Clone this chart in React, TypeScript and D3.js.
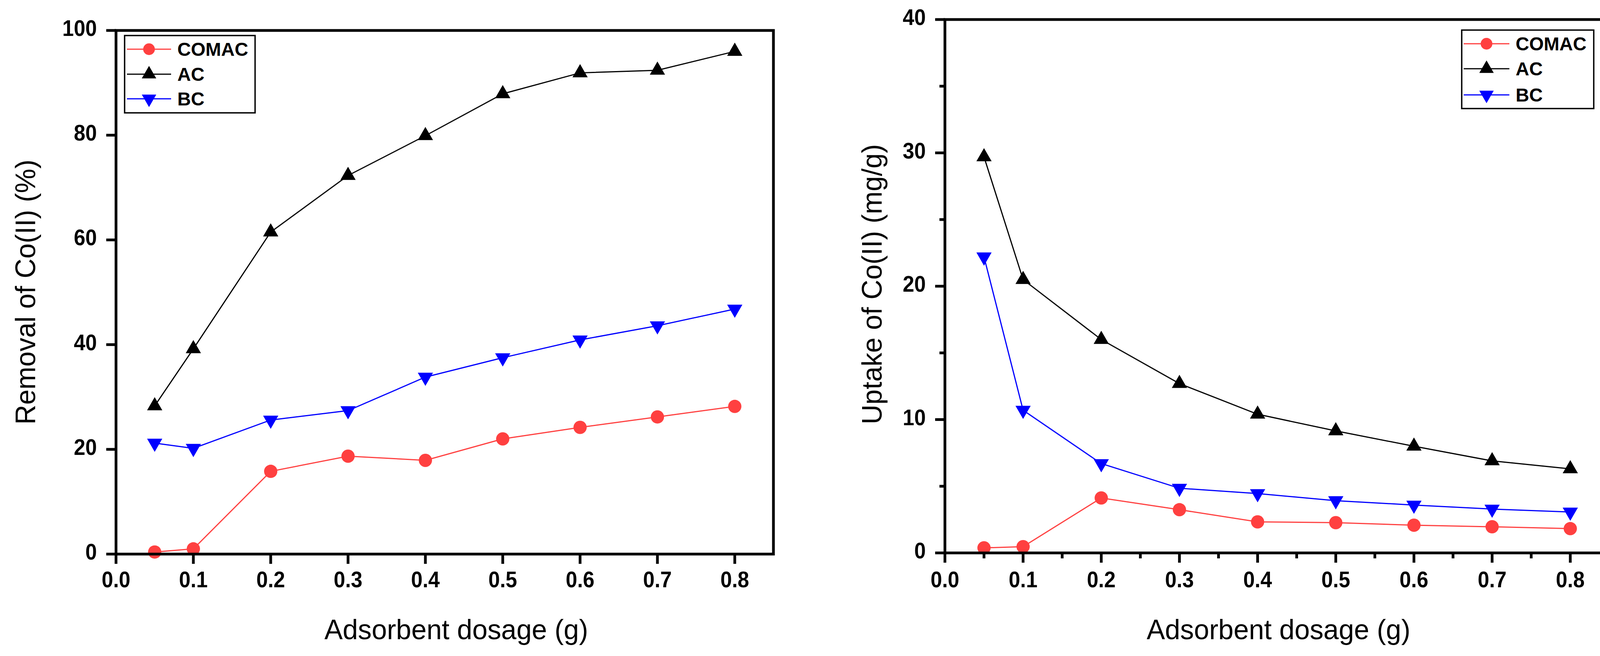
import React from 'react';
import * as d3 from 'd3';

// ---------- data ----------
const dosage = [0.05, 0.1, 0.2, 0.3, 0.4, 0.5, 0.6, 0.7, 0.8];
const seriesNames = ['COMAC', 'AC', 'BC'];
const seriesColors = ['#FF4040', '#000000', '#0000FF'];
const seriesShapes = ['circle', 'up', 'down'];

const removalCOMAC = [0.4, 1.0, 15.8, 18.7, 17.9, 22.0, 24.2, 26.2, 28.2];
const removalAC = [28.3, 39.2, 61.5, 72.3, 79.9, 87.9, 91.9, 92.4, 96.0];
const removalBC = [21.2, 20.2, 25.6, 27.4, 33.8, 37.5, 40.9, 43.6, 46.8];

const uptakeCOMAC = [0.38, 0.47, 4.12, 3.24, 2.33, 2.27, 2.08, 1.96, 1.82];
const uptakeAC = [29.7, 20.5, 16.0, 12.7, 10.4, 9.15, 8.0, 6.9, 6.3];
const uptakeBC = [22.2, 10.7, 6.7, 4.85, 4.45, 3.92, 3.59, 3.29, 3.07];

const xTicks = [0.0, 0.1, 0.2, 0.3, 0.4, 0.5, 0.6, 0.7, 0.8];
const xMinorTicks = [0.05, 0.15, 0.25, 0.35, 0.45, 0.55, 0.65, 0.75, 0.85];
const removalTicks = [0, 20, 40, 60, 80, 100];
const uptakeTicks = [0, 10, 20, 30, 40];
const uptakeMinorTicks = [5, 15, 25, 35];

const xTitle = 'Adsorbent dosage (g)';
const removalTitle = 'Removal of Co(II) (%)';
const uptakeTitle = 'Uptake of Co(II) (mg/g)';

// ---------- helpers ----------
const FONT = "'Liberation Sans', Arial, Helvetica, sans-serif";

function markerPath(shape: string, big: boolean) {
  const r = big ? 17 : 15;
  const triSide = big ? 39 : 37;
  if (shape === 'circle') return d3.symbol().type(d3.symbolCircle).size(Math.PI * r * r)()!;
  const area = (triSide * triSide * Math.sqrt(3)) / 4;
  return d3.symbol().type(d3.symbolTriangle).size(area)()!;
}

type PanelProps = {
  xRange: [number, number];
  yRange: [number, number]; // [bottom, top]
  yDomain: [number, number];
  yTicks: number[];
  yMinor: number[];
  xMinor: number[];
  series: number[][];
  yTitle: string;
  yTitleX: number;
  yTitleY: number;
  xTitleX: number;
  legend: { x: number; y: number; w: number; h: number; rows: number[]; lineX0: number; lineX1: number; textX: number };
};

function Panel(p: PanelProps) {
  const x = d3.scaleLinear().domain([0, 0.85]).range(p.xRange);
  const y = d3.scaleLinear().domain(p.yDomain).range(p.yRange);
  const [x0, x1] = p.xRange;
  const [yb, yt] = p.yRange;
  const line = d3
    .line<number>()
    .x((_, i) => x(dosage[i]))
    .y((d) => y(d));
  const AX = 7;
  const major = 25;
  const minor = 14;
  const sx = 0.93;
  return (
    <g>
      {/* data lines */}
      {p.series.map((s, k) => (
        <path key={'l' + k} d={line(s)!} fill="none" stroke={seriesColors[k]} strokeWidth={3} />
      ))}
      {/* markers */}
      {p.series.map((s, k) =>
        s.map((v, i) => (
          <path
            key={'m' + k + '_' + i}
            d={markerPath(seriesShapes[k], true)}
            fill={seriesColors[k]}
            transform={`translate(${x(dosage[i])},${y(v)})${seriesShapes[k] === 'down' ? ' rotate(180)' : ''}`}
          />
        ))
      )}
      {/* frame */}
      <rect x={x0} y={yt} width={x1 - x0} height={yb - yt} fill="none" stroke="#000" strokeWidth={AX} />
      {/* x ticks */}
      {xTicks.map((t) => (
        <line key={'xt' + t} x1={x(t)} x2={x(t)} y1={yb} y2={yb + major} stroke="#000" strokeWidth={AX} />
      ))}
      {p.xMinor.map((t) => (
        <line key={'xm' + t} x1={x(t)} x2={x(t)} y1={yb} y2={yb + minor} stroke="#000" strokeWidth={AX} />
      ))}
      {xTicks.map((t) => (
        <text
          key={'xl' + t}
          transform={`translate(${x(t)},1504) scale(${sx},1)`}
          textAnchor="middle"
          fontFamily={FONT}
          fontWeight="bold"
          fontSize={57}
        >
          {d3.format('.1f')(t)}
        </text>
      ))}
      {/* y ticks */}
      {p.yTicks.map((t) => (
        <line key={'yt' + t} x1={x0 - major} x2={x0} y1={y(t)} y2={y(t)} stroke="#000" strokeWidth={AX} />
      ))}
      {p.yMinor.map((t) => (
        <line key={'ym' + t} x1={x0 - minor} x2={x0} y1={y(t)} y2={y(t)} stroke="#000" strokeWidth={AX} />
      ))}
      {p.yTicks.map((t) => (
        <text
          key={'yl' + t}
          transform={`translate(${x0 - 49},${y(t) + 14}) scale(${sx},1)`}
          textAnchor="end"
          fontFamily={FONT}
          fontWeight="bold"
          fontSize={57}
        >
          {t}
        </text>
      ))}
      {/* axis titles */}
      <text
        transform={`translate(${p.xTitleX},1637) scale(0.975,1)`}
        textAnchor="middle"
        fontFamily={FONT}
        fontSize={72}
      >
        {xTitle}
      </text>
      <text
        transform={`translate(${p.yTitleX},${p.yTitleY}) rotate(-90) scale(0.975,1)`}
        textAnchor="middle"
        fontFamily={FONT}
        fontSize={72}
      >
        {p.yTitle}
      </text>
      {/* legend */}
      <rect
        x={p.legend.x}
        y={p.legend.y}
        width={p.legend.w}
        height={p.legend.h}
        fill="#fff"
        stroke="#000"
        strokeWidth={3.5}
      />
      {seriesNames.map((name, k) => {
        const ry = p.legend.rows[k];
        const mx = (p.legend.lineX0 + p.legend.lineX1) / 2;
        return (
          <g key={'lg' + k}>
            <line x1={p.legend.lineX0} x2={p.legend.lineX1} y1={ry} y2={ry} stroke={seriesColors[k]} strokeWidth={3} />
            <path
              d={markerPath(seriesShapes[k], false)}
              fill={seriesColors[k]}
              transform={`translate(${mx},${ry})${seriesShapes[k] === 'down' ? ' rotate(180)' : ''}`}
            />
            <text x={p.legend.textX} y={ry + 17} fontFamily={FONT} fontWeight="bold" fontSize={48}>
              {name}
            </text>
          </g>
        );
      })}
    </g>
  );
}

export default function App() {
  return (
    <div style={{ position: 'absolute', left: 0, top: 0, background: '#fff' }}>
      <svg width={4153} height={1680} viewBox="0 0 4153 1680" style={{ display: 'block' }}>
        <rect x={0} y={0} width={4153} height={1680} fill="#fff" />
        <Panel
          xRange={[297, 1980]}
          yRange={[1419, 78]}
          yDomain={[0, 100]}
          yTicks={removalTicks}
          yMinor={[]}
          xMinor={[]}
          series={[removalCOMAC, removalAC, removalBC]}
          yTitle={removalTitle}
          yTitleX={90}
          yTitleY={748}
          xTitleX={1168}
          legend={{ x: 319, y: 91, w: 334, h: 198, rows: [126, 190, 253], lineX0: 325, lineX1: 438, textX: 454 }}
        />
        <Panel
          xRange={[2419, 4120]}
          yRange={[1416, 50]}
          yDomain={[0, 40]}
          yTicks={uptakeTicks}
          yMinor={uptakeMinorTicks}
          xMinor={xMinorTicks}
          series={[uptakeCOMAC, uptakeAC, uptakeBC]}
          yTitle={uptakeTitle}
          yTitleX={2257}
          yTitleY={728}
          xTitleX={3273}
          legend={{ x: 3742, y: 77, w: 338, h: 201, rows: [112, 176, 243], lineX0: 3747, lineX1: 3864, textX: 3880 }}
        />
      </svg>
    </div>
  );
}
